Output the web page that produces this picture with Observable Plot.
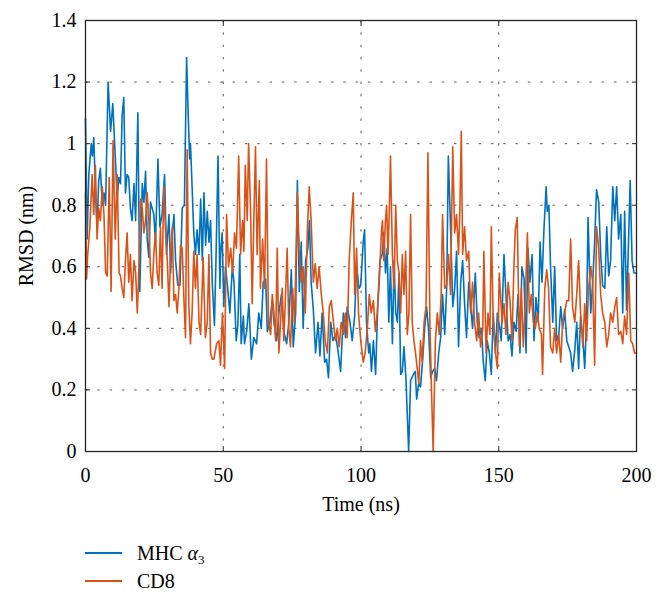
<!DOCTYPE html>
<html><head><meta charset="utf-8">
<script src="https://cdn.jsdelivr.net/npm/d3@7"></script>
<script src="https://cdn.jsdelivr.net/npm/@observablehq/plot@0.6"></script>
<style>
html,body{margin:0;padding:0;background:#fff;}
body{width:662px;height:599px;overflow:hidden;font-family:"Liberation Serif","Times New Roman",serif;color:#000;}
#legend{margin-top:14px;font-size:20px;}
.row{height:28px;display:flex;align-items:center;}
.sw{width:37px;height:0;border-top:2px solid;margin-left:85px;margin-right:15px;}
sub{font-size:13px;vertical-align:-4px;line-height:0;}
</style></head><body><div id="chart"></div><div id="legend"></div><script>
const seriesNames = ["MHC α3", "CD8"];
const seriesColors = ["#0072BD", "#D95319"];
const xTicks = [0, 50, 100, 150, 200];
const xTickLabels = ["0", "50", "100", "150", "200"];
const yTicks = [0, 0.2, 0.4, 0.6, 0.8, 1, 1.2, 1.4];
const yTickLabels = ["0", "0.2", "0.4", "0.6", "0.8", "1", "1.2", "1.4"];

const mhcTime = [0,0.6,1.2,2.1,2.5,3.0,3.6,4.2,4.8,5.4,6.1,6.7,7.3,8.2,9.1,9.9,10.9,11.5,12.1,12.7,13.3,13.9,14.5,15.1,15.7,16.3,16.9,17.6,18.2,19.0,19.7,20.6,21.2,21.8,22.4,23.0,23.6,24.8,25.4,26.3,27.0,27.8,28.7,29.4,30.3,30.9,31.5,32.1,32.7,33.5,34.3,35.1,35.9,36.7,37.3,37.8,38.1,38.7,39.3,39.9,40.5,41.2,41.8,42.4,43.0,43.6,44.2,44.8,45.4,46.0,46.8,47.4,48.1,48.8,
49.0,49.6,50.2,50.8,51.4,52.4,53.3,53.9,54.7,55.3,56.0,56.5,57.3,57.7,58.5,59.3,60.2,61.1,62.1,62.9,63.8,64.5,65.4,66.0,66.9,67.8,68.4,69.4,70.2,71.1,72.0,73.0,73.8,74.7,75.4,76.3,76.9,77.6,78.3,79.0,79.9,80.7,81.3,81.9,82.7,83.5,84.4,85.1,85.9,86.8,87.5,88.2,89.0,89.8,90.8,91.6,92.6,93.6,94.4,95.0,96.0,96.8,97.7,98.4,99.3,99.9,
100.8,101.3,102.0,102.8,103.2,103.8,104.5,105.3,106.1,106.9,107.7,108.3,108.9,109.5,110.1,110.7,111.4,112.0,112.6,113.2,113.8,114.4,115.0,115.6,116.3,117.3,118.0,119.0,119.7,120.2,120.9,121.6,122.4,123.1,123.8,124.5,125.3,126.0,126.7,127.4,128.2,128.9,129.6,130.4,131.1,131.7,132.5,133.3,134.0,134.7,135.4,136.2,136.9,137.6,138.3,139.1,139.8,140.5,141.5,142.2,142.9,143.7,144.4,145.1,145.8,146.6,147.3,148.0,148.8,149.5,150.4,
150.9,151.9,152.6,153.4,154.1,154.8,155.5,156.3,157.0,157.7,158.4,159.2,159.9,160.6,161.3,162.1,162.8,163.5,164.3,165.0,165.7,166.4,167.2,167.6,168.2,168.8,169.6,170.3,171.0,171.8,172.5,173.2,173.9,174.7,175.4,176.1,176.8,177.6,178.3,179.0,179.7,180.5,181.2,181.9,182.4,183.4,184.1,184.8,185.5,186.3,187.0,187.7,188.5,189.2,189.9,190.6,191.4,192.1,192.8,193.5,194.3,195.0,195.7,196.4,197.2,197.7,198.4,199.1,200];
const mhcRmsd = [1.08,0.69,0.9,1.0,0.96,1.02,0.85,0.73,0.88,0.92,0.8,0.84,0.8,1.2,1.04,1.13,0.94,0.82,0.89,0.87,1.09,1.15,0.84,0.9,0.89,0.79,0.75,0.87,0.75,1.1,0.52,0.87,0.81,0.91,0.69,0.63,0.81,0.77,0.68,0.95,0.73,0.77,0.9,0.64,0.77,0.58,0.71,0.77,0.62,0.54,0.54,0.79,0.8,1.28,1.09,0.95,1.0,0.86,0.71,0.64,0.72,0.64,0.82,0.62,0.84,0.67,0.78,0.68,0.75,0.55,0.41,0.64,0.96,0.53,
0.64,0.71,0.47,0.6,0.55,0.45,0.6,0.55,0.36,0.41,0.64,0.35,0.44,0.35,0.39,0.48,0.3,0.37,0.35,0.45,0.4,0.55,0.56,0.39,0.42,0.49,0.42,0.36,0.45,0.51,0.39,0.35,0.42,0.59,0.34,0.45,0.88,0.52,0.68,0.4,0.62,0.66,0.75,0.55,0.46,0.32,0.42,0.31,0.45,0.29,0.3,0.24,0.42,0.36,0.38,0.33,0.26,0.45,0.37,0.47,0.42,0.36,0.44,0.6,0.53,0.54,
0.68,0.72,0.42,0.32,0.35,0.26,0.36,0.25,0.48,0.62,0.64,0.71,0.58,0.66,0.42,0.6,0.35,0.62,0.45,0.42,0.58,0.25,0.26,0.34,0.24,0.0,0.23,0.25,0.26,0.17,0.22,0.21,0.3,0.4,0.47,0.4,0.24,0.26,0.27,0.23,0.32,0.37,0.51,0.38,0.53,0.96,0.73,0.47,0.53,0.65,0.34,0.55,0.62,0.48,0.37,0.55,0.47,0.4,0.58,0.42,0.37,0.4,0.29,0.23,0.36,0.32,0.25,0.45,0.32,0.45,0.4,
0.36,0.64,0.51,0.36,0.38,0.31,0.42,0.39,0.51,0.32,0.6,0.56,0.32,0.66,0.55,0.64,0.36,0.5,0.42,0.68,0.55,0.72,0.86,0.78,0.8,0.6,0.42,0.6,0.36,0.38,0.47,0.4,0.46,0.36,0.34,0.32,0.26,0.33,0.42,0.27,0.44,0.37,0.27,0.44,0.76,0.45,0.55,0.68,0.85,0.81,0.64,0.54,0.53,0.73,0.57,0.62,0.86,0.75,0.86,0.69,0.77,0.45,0.78,0.46,0.71,0.88,0.62,0.58,0.58];

const cd8Time = [0,0.4,0.8,1.6,2.4,3.0,3.6,4.2,4.8,5.4,6.1,6.7,7.3,7.9,8.6,9.3,10.0,10.8,11.5,12.2,12.7,13.3,13.9,14.5,15.1,15.7,16.3,16.9,17.6,18.2,18.8,19.4,20.0,20.6,21.2,21.8,22.4,23.0,23.6,24.2,24.8,25.4,26.0,26.6,27.2,27.8,28.4,29.0,29.7,30.3,30.9,31.5,32.1,32.7,33.3,33.9,34.5,35.1,35.7,36.3,36.9,37.5,38.1,38.7,39.3,39.9,40.5,41.2,41.8,42.7,43.5,44.2,44.8,45.4,46.0,46.6,47.6,48.4,
49.0,49.7,50.5,51.2,51.9,52.7,53.4,54.1,54.8,55.6,56.3,57.0,57.5,58.0,58.7,59.2,59.9,60.5,61.1,61.7,62.3,63.1,63.5,64.3,65.0,65.7,66.4,67.2,67.8,68.4,69.0,69.6,70.2,70.8,71.4,72.0,72.7,73.2,73.8,74.4,75.2,75.9,76.9,77.6,78.3,79.0,79.8,80.5,81.2,81.9,82.7,83.4,84.1,84.8,85.6,86.3,87.0,87.8,88.5,89.2,90.0,90.7,91.4,92.1,92.8,93.6,94.3,95.0,95.7,96.5,97.2,97.7,98.4,99.1,99.9,
100.8,101.5,102.3,103.0,103.7,104.5,105.2,105.9,106.6,107.4,107.8,108.3,108.8,109.3,109.8,110.3,110.7,111.4,112.0,112.6,113.2,113.8,114.4,115.0,115.6,116.2,116.8,117.4,118.0,118.6,119.2,119.8,120.4,121.0,121.6,122.2,122.9,123.6,124.3,125.0,125.5,126.2,127.0,127.7,128.4,129.1,129.6,130.4,131.1,131.8,132.5,133.3,134.0,134.7,135.4,135.9,136.4,136.9,137.6,138.3,139.1,139.8,140.5,141.2,142.0,142.7,143.4,144.2,144.6,145.4,146.1,146.8,147.3,148.0,148.8,149.5,150.2,
151.2,151.9,152.6,153.4,154.1,154.8,155.5,156.0,156.7,157.5,158.2,158.9,159.6,160.4,161.1,161.8,162.6,163.3,164.0,164.7,165.5,165.9,166.7,167.4,168.1,168.8,169.6,170.3,171.0,171.8,172.5,173.2,173.9,174.7,175.4,176.1,176.8,177.6,178.3,179.0,179.7,180.5,181.2,181.9,182.6,183.4,184.1,184.8,185.5,186.3,187.0,187.7,188.5,189.2,189.9,190.6,191.4,192.1,192.8,193.5,194.3,195.0,195.7,196.4,197.2,197.9,198.6,199.3,200];
const cd8Rmsd = [0.84,0.56,0.64,0.73,0.9,0.77,0.93,0.69,0.79,0.75,0.86,0.77,0.58,0.57,0.89,0.52,1.01,0.69,0.9,0.58,0.57,0.53,0.5,0.62,0.71,0.55,0.64,0.49,0.62,0.58,0.45,0.6,0.82,0.79,0.71,0.75,0.84,0.75,0.58,0.53,0.64,0.71,0.58,0.54,0.73,0.53,0.86,0.73,0.62,0.47,0.64,0.73,0.49,0.51,0.45,0.53,0.67,0.66,0.5,0.37,0.98,0.48,0.35,0.45,0.65,0.53,0.64,0.42,0.38,0.63,0.37,0.42,0.64,0.32,0.3,0.3,0.35,0.36,
0.28,0.45,0.27,0.77,0.6,0.66,0.58,0.71,0.66,0.96,0.64,0.75,0.65,0.93,0.75,1.0,0.79,0.48,0.75,0.99,0.64,0.88,0.53,0.69,0.53,0.95,0.42,0.38,0.51,0.45,0.36,0.66,0.32,0.42,0.53,0.36,0.53,0.66,0.4,0.34,0.53,0.42,0.84,0.64,0.55,0.6,0.45,0.71,0.86,0.75,0.55,0.61,0.53,0.6,0.51,0.45,0.36,0.32,0.47,0.49,0.42,0.36,0.4,0.34,0.42,0.38,0.45,0.37,0.62,0.75,0.84,0.51,0.66,0.45,0.36,
0.29,0.32,0.4,0.51,0.45,0.49,0.39,0.45,0.55,0.71,0.75,0.62,0.74,0.8,0.64,0.79,0.96,0.64,0.53,0.8,0.62,0.58,0.45,0.64,0.51,0.65,0.38,0.45,0.77,0.42,0.36,0.32,0.27,0.22,0.36,0.29,0.42,0.47,0.97,0.42,0.23,0.0,0.36,0.45,0.38,0.51,0.77,0.53,0.54,0.64,0.51,0.99,0.71,0.77,0.64,0.79,1.04,0.64,0.73,0.62,0.65,0.45,0.55,0.42,0.36,0.45,0.34,0.4,0.65,0.32,0.45,0.38,0.73,0.42,0.32,0.27,0.58,
0.42,0.48,0.38,0.55,0.49,0.36,0.6,0.72,0.76,0.34,0.53,0.34,0.48,0.71,0.45,0.51,0.42,0.4,0.45,0.4,0.38,0.25,0.53,0.59,0.53,0.34,0.32,0.4,0.32,0.38,0.29,0.42,0.45,0.49,0.49,0.69,0.47,0.42,0.51,0.62,0.45,0.34,0.48,0.36,0.53,0.6,0.55,0.28,0.73,0.66,0.51,0.45,0.42,0.34,0.38,0.45,0.42,0.47,0.5,0.38,0.39,0.35,0.44,0.38,0.58,0.36,0.35,0.32,0.32];

const mhc = mhcTime.map((t, i) => ({t, v: mhcRmsd[i]}));
const cd8 = cd8Time.map((t, i) => ({t, v: cd8Rmsd[i]}));
const gridX = xTicks.slice(1, -1);
const gridY = yTicks.slice(1, -1);
const font = '"Liberation Serif","Times New Roman",serif';

const chart = Plot.plot({
  width: 662, height: 525,
  marginLeft: 85, marginRight: 26, marginTop: 20, marginBottom: 74,
  style: {fontFamily: font, fontSize: "20px", color: "#000", background: "#fff"},
  x: {domain: [0, 200]},
  y: {domain: [0, 1.4]},
  marks: [
    Plot.ruleY(gridY, {stroke: "#262626", strokeOpacity: 0.75, strokeDasharray: "2.5,9.8"}),
    Plot.ruleX(gridX, {stroke: "#262626", strokeOpacity: 0.75, strokeDasharray: "2.5,9.8"}),
    Plot.line(mhc, {x: "t", y: "v", stroke: seriesColors[0], strokeWidth: 1.6}),
    Plot.line(cd8, {x: "t", y: "v", stroke: seriesColors[1], strokeWidth: 1.6}),
    Plot.frame({stroke: "#262626", strokeWidth: 1.3}),
    Plot.axisX({ticks: xTicks, tickSize: -5, tickPadding: 21, tickFormat: d => xTickLabels[xTicks.indexOf(d)],
      stroke: "#262626", label: "Time (ns)", labelArrow: "none", labelAnchor: "center", labelOffset: 59, fontSize: 20}),
    Plot.axisX({anchor: "top", ticks: xTicks, tickSize: -5, tickFormat: () => "", label: null, stroke: "#262626"}),
    Plot.axisY({ticks: yTicks, tickSize: -5, tickPadding: 14, tickFormat: d => yTickLabels[yTicks.indexOf(d)],
      stroke: "#262626", label: "RMSD (nm)", labelArrow: "none", labelAnchor: "center", labelOffset: 67, fontSize: 20}),
    Plot.axisY({anchor: "right", ticks: yTicks, tickSize: -5, tickFormat: () => "", label: null, stroke: "#262626"})
  ]
});
document.getElementById("chart").appendChild(chart);

const legend = document.getElementById("legend");
seriesNames.forEach((name, i) => {
  const row = document.createElement("div");
  row.className = "row";
  const sw = document.createElement("span");
  sw.className = "sw";
  sw.style.borderColor = seriesColors[i];
  const lab = document.createElement("span");
  if (name.includes("α")) {
    const parts = name.split("α");
    lab.innerHTML = parts[0] + "<i>α</i><sub>" + parts[1] + "</sub>";
  } else lab.textContent = name;
  row.appendChild(sw); row.appendChild(lab);
  legend.appendChild(row);
});
</script></body></html>
